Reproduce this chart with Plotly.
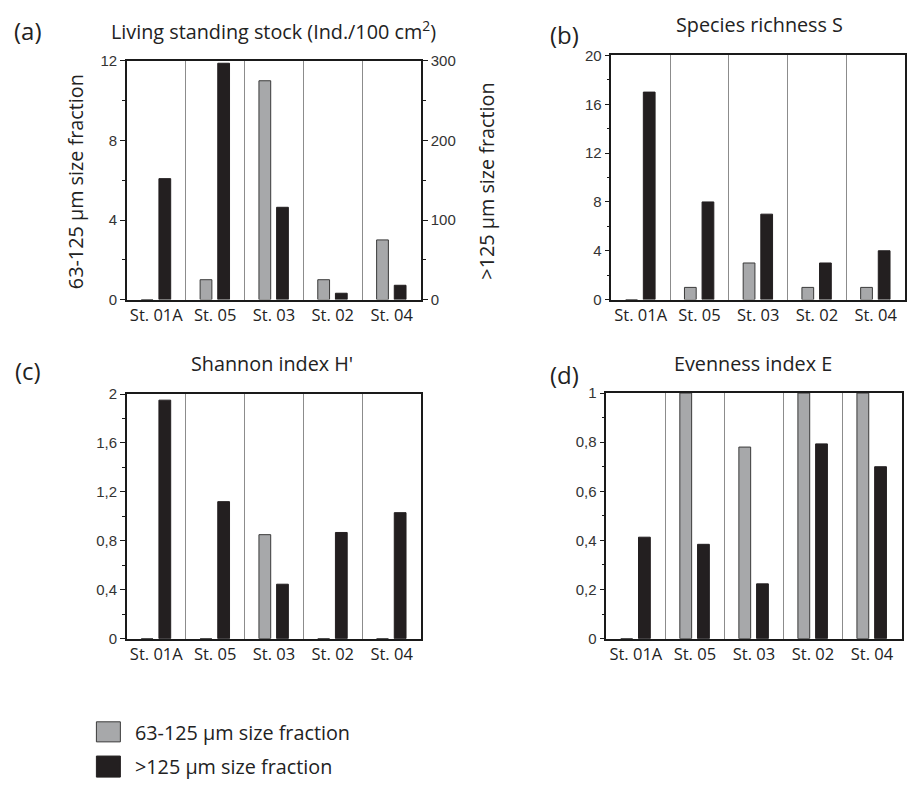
import plotly.graph_objects as go

# ---------------- data ----------------
stations = ["St. 01A", "St. 05", "St. 03", "St. 02", "St. 04"]

stock_small = [0, 1, 11, 1, 3]            # 63-125 µm, left axis
stock_large = [152, 297, 116, 8, 18]      # >125 µm, right axis

rich_small = [0, 1, 3, 1, 1]
rich_large = [17, 8, 7, 3, 4]

shannon_small = [0, 0, 0.85, 0, 0]
shannon_large = [1.95, 1.12, 0.445, 0.868, 1.03]

even_small = [0, 1, 0.78, 1, 1]
even_large = [0.413, 0.384, 0.223, 0.793, 0.70]

legend_names = ["63-125 µm size fraction", ">125 µm size fraction"]

# ---------------- style ----------------
W, H = 907, 789
GRAY = "#a7a8aa"
BLACK = "#231f20"
AX = "#1a1a1a"
TXT = "#222222"
LABEL_FONT = "Open Sans"
NUM_FONT = "Liberation Sans"
BAR_W = 0.2
OFF_SMALL = -0.255
OFF_LARGE = 0.045
BIG = 19.8


def fx(px):
    return px / W


def fy(py):
    return 1 - py / H


fig = go.Figure()


def add_pair(small, large, xa, ya_small, ya_large):
    fig.add_trace(go.Bar(
        x=stations, y=small, xaxis=xa, yaxis=ya_small,
        width=BAR_W, offset=OFF_SMALL, name=legend_names[0],
        marker=dict(color=GRAY, line=dict(color="#3a3a3a", width=1)),
        showlegend=False))
    fig.add_trace(go.Bar(
        x=stations, y=large, xaxis=xa, yaxis=ya_large,
        width=BAR_W, offset=OFF_LARGE, name=legend_names[1],
        marker=dict(color=BLACK, line=dict(color=BLACK, width=1)),
        showlegend=False))


add_pair(stock_small, stock_large, "x", "y", "y5")
add_pair(rich_small, rich_large, "x2", "y2", "y2")
add_pair(shannon_small, shannon_large, "x3", "y3", "y3")
add_pair(even_small, even_large, "x4", "y4", "y4")


def xax(domain, anchor):
    return dict(
        domain=domain, anchor=anchor, type="category",
        range=[-0.5, 4.5], showline=True, linecolor=AX, linewidth=1.5,
        mirror=True, tickson="boundaries", showgrid=True,
        gridcolor="#8c8c8c", gridwidth=1.2, ticks="", zeroline=False,
        tickangle=0,
        tickfont=dict(family=LABEL_FONT, size=16.5, color=TXT),
        fixedrange=True)


def yax(domain, anchor, rng, dtick, minor, mirror=True, side="left"):
    return dict(
        domain=domain, anchor=anchor, range=rng, dtick=dtick, tick0=0,
        side=side, showline=True, linecolor=AX, linewidth=1.5,
        mirror=mirror, ticks="outside", ticklen=5, tickwidth=1.2,
        tickcolor=AX, showgrid=False, zeroline=False,
        tickfont=dict(family=NUM_FONT, size=15, color="#333333"),
        minor=dict(ticks="outside", ticklen=3, dtick=minor, tick0=0,
                   tickcolor=AX, tickwidth=1, showgrid=False),
        fixedrange=True)


xa_dom = [fx(127), fx(421.5)]
xb_dom = [fx(612), fx(906)]
xc_dom = [fx(127), fx(421.5)]
xd_dom = [fx(607), fx(902.5)]
ya_dom = [fy(297), fy(53)]
yb_dom = [fy(297), fy(47.5)]
yc_dom = [fy(643.5), fy(393.5)]
yd_dom = [fy(643.5), fy(392.5)]

y5 = yax(ya_dom, "x", [0, 300], 100, 50, mirror=False, side="right")
y5["overlaying"] = "y"

fig.update_layout(
    width=W, height=H,
    margin=dict(l=0, r=0, t=0, b=0),
    paper_bgcolor="white", plot_bgcolor="white",
    barmode="overlay",
    separators=",.",
    showlegend=False,
    xaxis=xax(xa_dom, "y"),
    xaxis2=xax(xb_dom, "y2"),
    xaxis3=xax(xc_dom, "y3"),
    xaxis4=xax(xd_dom, "y4"),
    yaxis=yax(ya_dom, "x", [0, 12], 4, 2, mirror=False),
    yaxis2=yax(yb_dom, "x2", [0, 20], 4, 2),
    yaxis3=yax(yc_dom, "x3", [0, 2], 0.4, 0.2),
    yaxis4=yax(yd_dom, "x4", [0, 1], 0.2, 0.1),
    yaxis5=y5,
)

ann = []


def text(s, x, y, size=BIG, angle=0, xanchor="center", family=LABEL_FONT):
    ann.append(dict(text=s, x=fx(x), y=fy(y), xref="paper", yref="paper",
                    showarrow=False, xanchor=xanchor, yanchor="middle",
                    textangle=angle,
                    font=dict(family=family, size=size, color=TXT)))


# panel letters
text("(a)", 28, 22, size=24)
text("(b)", 565, 26, size=24)
text("(c)", 28, 369, size=24)
text("(d)", 565, 374, size=24)
# panel titles
text("Living standing stock (Ind./100 cm<sup>2</sup>)", 274, 22)
text("Species richness S", 760, 16)
text("Shannon index H'", 272, 362)
text("Evenness index E", 754, 362)
# y titles for (a)
text("63-125 µm size fraction", 75, 176, angle=-90)
text(">125 µm size fraction", 487, 176, angle=-90)
# legend text
text(legend_names[0], 133, 739, xanchor="left")
text(legend_names[1], 133, 774, xanchor="left")

shapes = [
    dict(type="rect", xref="paper", yref="paper",
         x0=fx(96.5), x1=fx(120.5), y0=fy(749), y1=fy(728.5),
         fillcolor=GRAY, line=dict(color="#3a3a3a", width=1)),
    dict(type="rect", xref="paper", yref="paper",
         x0=fx(96.5), x1=fx(120.5), y0=fy(785), y1=fy(763.5),
         fillcolor=BLACK, line=dict(color=BLACK, width=1)),
]

fig.update_layout(annotations=ann, shapes=shapes)

fig.write_html("out.html")
